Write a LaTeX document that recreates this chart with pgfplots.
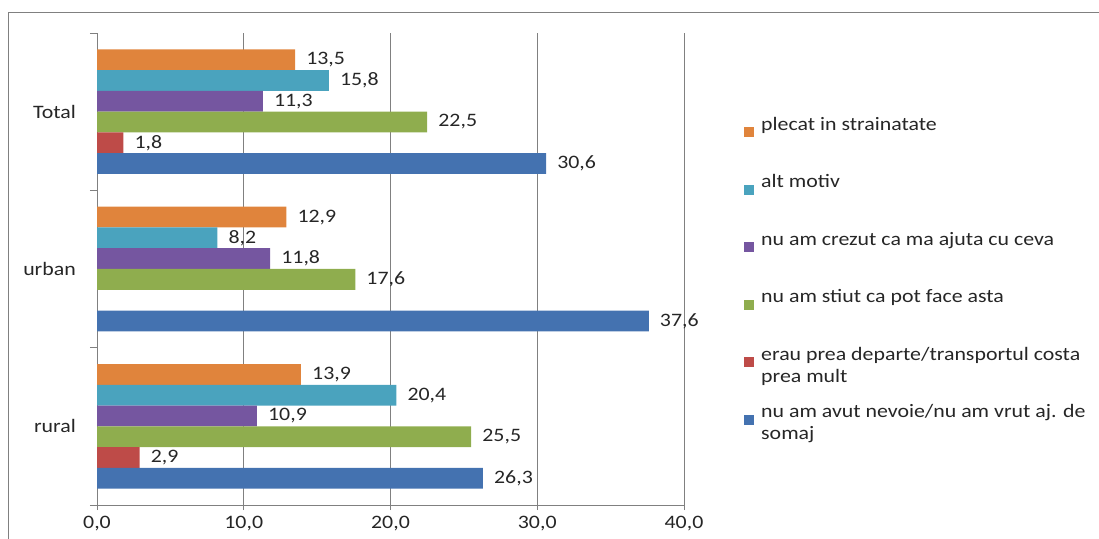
\documentclass[border=0pt]{standalone}
\usepackage{pgfplots}
\pgfplotsset{compat=1.18}
\usepackage{fontspec}
\setmainfont{Carlito}[FakeStretch=1.15]
\definecolor{cOr}{HTML}{E0843C}
\definecolor{cTe}{HTML}{4AA3BE}
\definecolor{cPu}{HTML}{7556A0}
\definecolor{cGr}{HTML}{8FAD4E}
\definecolor{cRe}{HTML}{BE4B48}
\definecolor{cBl}{HTML}{4472B0}
\definecolor{txt}{HTML}{262626}
\newcommand{\F}{\fontsize{19bp}{22bp}\selectfont}
\pgfplotsset{sqlegend/.style={legend image code/.code={\fill[##1] (0bp,1bp) rectangle (10bp,11bp);}}}
\begin{document}
\F
\begin{tikzpicture}
\path[use as bounding box] (0,0) rectangle (1099bp,539bp);
\draw[color=black!50, line width=1bp] (8bp,0) -- (8bp,526bp) -- (1099bp,526bp);
\begin{axis}[
  at={(97bp,34bp)}, anchor=south west,
  scale only axis, width=587bp, height=472bp,
  xbar, bar width=0.132,
  xmin=0, xmax=40, ymin=-0.5, ymax=2.5,
  axis x line=bottom, axis y line=left,
  axis line style={black!50, -, line width=0.8bp},
  xtick={0,10,20,30,40},
  ytick={0,1,2}, yticklabels={rural,urban,Total},
  minor ytick={-0.5,0.5,1.5,2.5},
  major y tick style={draw=none},
  tick style={black!50, line width=0.8bp},
  tick align=outside, major tick length=5bp, minor tick length=7bp,
  xmajorgrids, grid style={black!50, line width=0.8bp},
  /pgf/number format/.cd, use comma, fixed, fixed zerofill, precision=1, assume math mode=true,
  /pgfplots/.cd,
  ticklabel style={font=\F, text=txt},
  yticklabel style={inner sep=0pt, xshift=-16bp},
  xticklabel style={inner sep=0pt, yshift=-6bp},
  point meta=x,
  nodes near coords,
  nodes near coords style={anchor=west, inner sep=0pt, xshift=11bp, font=\F, text=txt},
  legend style={at={(axis description cs:1.0971,0.828)}, anchor=north west,
    draw=none, fill=none, row sep=13.5bp, column sep=7bp, font=\F, text=txt,
    nodes={inner sep=0pt, text height=14bp, text depth=30bp}},
  legend cell align=left,
]
\addplot[fill=cOr, draw=none, bar shift=0.33, sqlegend] coordinates {(13.9,0) (12.9,1) (13.5,2)};
\addlegendentry{plecat in strainatate}
\addplot[fill=cTe, draw=none, bar shift=0.198, sqlegend] coordinates {(20.4,0) (8.2,1) (15.8,2)};
\addlegendentry{alt motiv}
\addplot[fill=cPu, draw=none, bar shift=0.066, sqlegend] coordinates {(10.9,0) (11.8,1) (11.3,2)};
\addlegendentry{nu am crezut ca ma ajuta cu ceva}
\addplot[fill=cGr, draw=none, bar shift=-0.066, sqlegend] coordinates {(25.5,0) (17.6,1) (22.5,2)};
\addlegendentry{nu am stiut ca pot face asta}
\addplot[fill=cRe, draw=none, bar shift=-0.198, sqlegend] coordinates {(2.9,0) (1.8,2)};
\addlegendentry{\begin{tabular}[t]{@{}l@{}}erau prea departe/transportul costa\\prea mult\end{tabular}}
\addplot[fill=cBl, draw=none, bar shift=-0.33, sqlegend] coordinates {(26.3,0) (37.6,1) (30.6,2)};
\addlegendentry{\begin{tabular}[t]{@{}l@{}}nu am avut nevoie/nu am vrut aj. de\\somaj\end{tabular}}
\end{axis}
\end{tikzpicture}
\end{document}
